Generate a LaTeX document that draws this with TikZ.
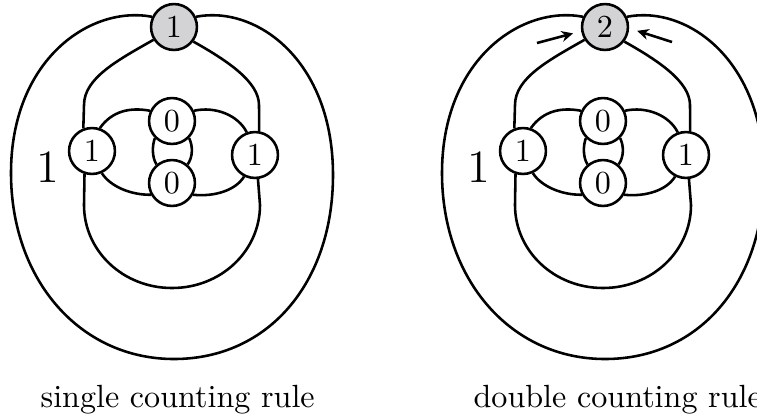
\documentclass[tikz,border=0pt]{standalone}
\usetikzlibrary{arrows.meta}
\definecolor{nodegray}{RGB}{211,211,214}
\tikzset{
  vtx/.style={circle, draw, line width=0.8pt, fill=white, minimum size=14.3pt, inner sep=0pt},
  topvtx/.style={vtx, fill=nodegray},
  strand/.style={line width=0.8pt},
  pointer/.style={line width=0.8pt, -{Stealth[length=3.6pt,width=3.4pt]}, shorten >=2.6pt},
  caption/.style={anchor=base west, inner sep=0pt},
}
\newcommand\knotgraph[2]{%
  \node[topvtx] (#1T) at (174,27) {#2};
  \node[vtx] (#1L) at (92,151) {1};
  \node[vtx] (#1R) at (255,155) {1};
  \node[vtx] (#1A) at (172,121) {0};
  \node[vtx] (#1B) at (172,183) {0};
  \node[font=\Large, anchor=base, inner sep=0pt] (#1lab) at (48,182) {1};
  % outer loop
  \draw[strand] (#1T.155) .. controls (90,5) and (11,60) .. (11,173)
     .. controls (11,280) and (80,359) .. (174,359)
     .. controls (268,359) and (333,283) .. (333,175)
     .. controls (333,60) and (256,5) .. (#1T.25);
  % vertical loop
  \draw[strand] (#1T.212) .. controls (118,60) and (84,78) .. (84,105) -- (#1L.111);
  \draw[strand] (#1L.252) -- (84,205) .. controls (84,251) and (123,288) .. (172,288)
     .. controls (221,288) and (260,251) .. (260,205) -- (#1R.277);
  \draw[strand] (#1R.80) -- (259,105) .. controls (259,82) and (228,61) .. (#1T.323);
  % horizontal loop
  \draw[strand] (#1L.71) .. controls (112,111) and (130,107) .. (#1A.155);
  \draw[strand] (#1A.25) .. controls (215,106) and (238,115) .. (#1R.110);
  \draw[strand] (#1R.243) .. controls (236,190) and (215,197) .. (#1B.331);
  \draw[strand] (#1B.209) .. controls (130,195) and (110,186) .. (#1L.294);
  % small loop
  \draw[strand] (#1A.225) .. controls (152,146) and (152,157) .. (#1B.130);
  \draw[strand] (#1A.315) .. controls (193,146) and (193,157) .. (#1B.50);
}
\begin{document}
\begin{tikzpicture}[x=0.3115pt, y=-0.3115pt]
  \useasboundingbox (0,0) rectangle (757,416);
  \clip (0,0) rectangle (757,416);
  \knotgraph{l}{1}
  \begin{scope}[shift={(431,0)}]
    \knotgraph{r}{2}
  \end{scope}
  \coordinate (pl) at (537,43);
  \coordinate (pr) at (672,42);
  \draw[pointer] (pl) -- (rT.190);
  \draw[pointer] (pr) -- (rT.357);
  \node[caption] (capl) at (40,407) {single counting rule};
  \node[caption] (capr) at (473,407) {double counting rule};
\end{tikzpicture}
\end{document}
